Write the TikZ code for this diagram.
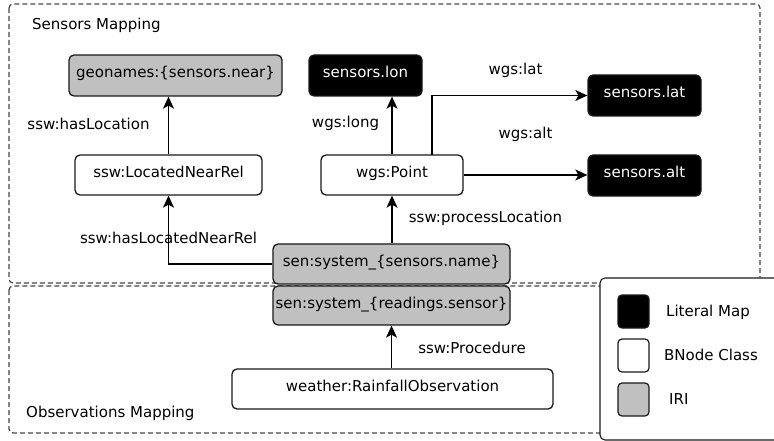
\documentclass[tikz,border=0pt]{standalone}
\usepackage{fontspec}
\setmainfont{DejaVu Sans}
\usetikzlibrary{arrows.meta}
\definecolor{irigray}{RGB}{192,192,192}
\definecolor{edgec}{RGB}{25,25,25}
\definecolor{dashc}{RGB}{70,70,70}
\tikzset{
  every node/.style={font=\fontsize{15}{18}\selectfont},
  box/.style={draw=edgec, line width=1.3pt, rounded corners=5pt, inner sep=0pt, text height=0.72em, text depth=0.22em},
  iri/.style={box, fill=irigray},
  bnode/.style={box, fill=white},
  lit/.style={box, fill=black, text=white},
  lbl/.style={inner sep=0pt, text height=0.72em, text depth=0.22em},
  conn/.style={draw=black, line width=1.5pt, -{Stealth[length=12pt,width=11pt,inset=3pt]}},
  region/.style={draw=dashc, line width=1.2pt, dash pattern=on 5pt off 3pt, rounded corners=4pt},
  legsq/.style={draw=edgec, line width=1.2pt, rounded corners=4pt, minimum width=31pt, minimum height=33pt, inner sep=0pt},
}
\begin{document}
\begin{tikzpicture}[x=1pt,y=-1pt]
\useasboundingbox (0,0) rectangle (774,441);
\clip (0,0) rectangle (774,441);
% regions
\draw[region] (9,4) rectangle (760,283);
\draw[region] (9,286) rectangle (700,433);
\node[lbl, anchor=west] (smap) at (32,27) {Sensors Mapping};
\node[lbl, anchor=west] (omap) at (26,415) {Observations Mapping};

% nodes
\node[iri, minimum width=213pt, minimum height=41pt] (geo) at (175.5,75.5) {geonames:\{sensors.near\}};
\node[lit, minimum width=113pt, minimum height=41pt] (lon) at (365.5,75.5) {sensors.lon};
\node[bnode, minimum width=187pt, minimum height=40pt] (lnr) at (168.5,175) {ssw:LocatedNearRel};
\node[bnode, minimum width=142pt, minimum height=40pt] (pt) at (392,175) {wgs:Point};
\node[lit, minimum width=113pt, minimum height=41pt] (lat) at (644.5,95.5) {sensors.lat};
\node[lit, minimum width=113pt, minimum height=41pt] (alt) at (644.5,175.5) {sensors.alt};
\node[iri, minimum width=237pt, minimum height=40pt] (sname) at (391.5,264) {sen:system\_\{sensors.name\}};
\node[iri, minimum width=237pt, minimum height=39pt] (sread) at (391.5,305.5) {sen:system\_\{readings.sensor\}};
\node[bnode, minimum width=321pt, minimum height=40pt] (rain) at (392.5,389) {weather:RainfallObservation};

% connectors
\draw[conn] (lnr.north) -- (geo.south -| lnr.north);
\draw[conn] (pt.north) -- (pt.north |- lon.south);
\coordinate (latstart) at (432,155);
\draw[conn] (latstart) |- (lat.west);
\draw[conn] (pt.east) -- (pt.east -| alt.west);
\draw[conn] (sname.north -| pt.south) -- (pt.south);
\draw[conn] (sname.west) -| (lnr.south);
\draw[conn] (rain.north -| sread.south) -- (sread.south);

% edge labels
\node[lbl] (l1) at (88.5,127) {ssw:hasLocation};
\node[lbl] (l2) at (345.5,125) {wgs:long};
\node[lbl] (l3) at (515.5,72) {wgs:lat};
\node[lbl] (l4) at (525.5,136) {wgs:alt};
\node[lbl] (l5) at (485.5,220) {ssw:processLocation};
\node[lbl] (l6) at (168.5,241) {ssw:hasLocatedNearRel};
\node[lbl] (l7) at (472,351) {ssw:Procedure};

% legend
\draw[draw=edgec, line width=1.1pt, fill=white, rounded corners=5pt] (600,278) rectangle (800,440);
\node[legsq, fill=black] (sq1) at (633.5,311.5) {};
\node[legsq, fill=white] (sq2) at (633.5,355.5) {};
\node[legsq, fill=irigray] (sq3) at (633.5,399.5) {};
\node[lbl, anchor=west] (t1) at (666,314) {Literal Map};
\node[lbl, anchor=west] (t2) at (664,358) {BNode Class};
\node[lbl, anchor=west] (t3) at (669,402) {IRI};
\end{tikzpicture}
\end{document}
